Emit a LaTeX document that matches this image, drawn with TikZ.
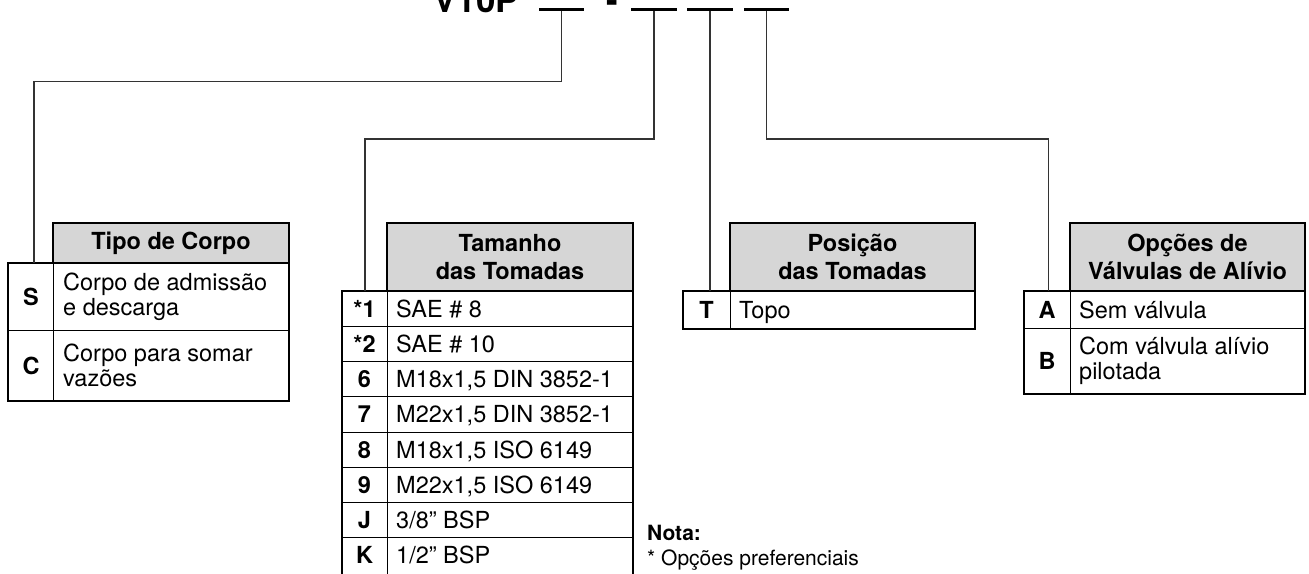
\documentclass[tikz,border=0pt]{standalone}
\usepackage{fontspec}
\setmainfont{TeX Gyre Heros}
\newcommand\fHead{\fontsize{23.5}{27.5}\selectfont\bfseries}
\newcommand\fKey{\fontsize{23.5}{27.5}\selectfont\bfseries}
\newcommand\fDesc{\fontsize{23.5}{25}\selectfont}
\newcommand\fTitle{\fontsize{35}{40}\selectfont\bfseries}
\newcommand\myNoteFont{\fontsize{21}{24}\selectfont}
\begin{document}
\begin{tikzpicture}[x=1pt,y=-1pt,
  conn/.style={draw=black!80, line width=1.3pt},
  outer/.style={draw=black, line width=2.3pt},
  inner/.style={draw=black, line width=1pt},
  hdr/.style={draw=black, line width=2.3pt, fill=black!16, inner sep=0pt, align=center, font=\fHead},
  key/.style={font=\fKey, inner sep=0pt},
  desc/.style={font=\fDesc, inner sep=0pt, anchor=west, align=left},
  one/.style={text height=22pt, text depth=5pt},
  uline/.style={fill=black, inner sep=0pt, minimum width=45.5pt, minimum height=2.2pt}]
\useasboundingbox (0,0) rectangle (1309,573);

% ---- title code ----
\node[font=\fTitle, anchor=base west, inner sep=0pt] (title) at (433,12.7) {V10P};
\node[font=\fTitle, anchor=base west, inner sep=0pt] (dash) at (606.5,12.7) {-};
\node[uline] (u1) at (561.5,9.5) {};
\node[uline] (u2) at (654,9.5) {};
\node[uline] (u3) at (710,9.5) {};
\node[uline] (u4) at (766.5,9.5) {};

% ---- Tipo de Corpo ----
\draw[outer] (8,263) rectangle (289,401);
\draw[inner] (53,263) -- (53,401);
\draw[inner] (8,330) -- (289,330);
\node[hdr, minimum width=236pt, minimum height=40pt] (h1) at (171,243) {Tipo de Corpo};
\node[key] (kS) at (31,296.5) {S};
\node[key] (kC) at (31,365.5) {C};
\node[desc] (dS) at (63,296.5) {Corpo de admissão\\e descarga};
\node[desc] (dC) at (63,365.5) {Corpo para somar\\vazões};
\coordinate (in1) at (34,263);

% ---- Tamanho das Tomadas ----
\draw[outer] (342,291) rectangle (633,576);
\draw[inner] (387,291) -- (387,576);
\foreach \k in {1,...,7}{\draw[inner] (342,291+35.25*\k) -- (633,291+35.25*\k);}
\node[hdr, minimum width=246pt, minimum height=68pt] (h2) at (510,257) {Tamanho\\das Tomadas};
\foreach \kk/\dd [count=\i from 0] in {{*1}/{SAE \# 8}, {*2}/{SAE \# 10}, {6}/{M18x1,5 DIN 3852-1}, {7}/{M22x1,5 DIN 3852-1}, {8}/{M18x1,5 ISO 6149}, {9}/{M22x1,5 ISO 6149}, {J}/{3/8” BSP}, {K}/{1/2” BSP}}{
  \node[key] (k2-\i) at (364.5,291+35.25*\i+17.6) {\kk};
  \node[desc, one] (d2-\i) at (396,291+35.25*\i+17.6) {\dd};
}
\coordinate (in2) at (365,291);

% ---- Posicao das Tomadas ----
\draw[outer] (683,291) rectangle (975,329);
\draw[inner] (730,291) -- (730,329);
\node[hdr, minimum width=245pt, minimum height=68pt] (h3) at (852.5,257) {Posição\\das Tomadas};
\node[key] (kT) at (706.5,310) {T};
\node[desc, one] (dT) at (739,310) {Topo};
\coordinate (in3) at (710,291);

% ---- Opcoes de Valvulas de Alivio ----
\draw[outer] (1024,291) rectangle (1305,394);
\draw[inner] (1070,291) -- (1070,394);
\draw[inner] (1024,328) -- (1305,328);
\node[hdr, minimum width=235pt, minimum height=68pt] (h4) at (1187.5,257) {Opções de\\Válvulas de Alívio};
\node[key] (kA) at (1047,309.5) {A};
\node[desc, one] (dA) at (1079,309.5) {Sem válvula};
\node[key] (kB) at (1047,361) {B};
\node[desc] (dB) at (1079,361) {Com válvula alívio\\pilotada};
\coordinate (in4) at (1048.5,291);

% ---- connectors ----
\coordinate (c1) at (34,81.5);
\coordinate (c2) at (365,139);
\coordinate (c4) at (1048.5,139);
\draw[conn] (u1.south) |- (c1) -- (in1);
\draw[conn] (u2.south) |- (c2) -- (in2);
\draw[conn] (u3.south) -- (in3);
\draw[conn] (u4.south) |- (c4) -- (in4);

% ---- note ----
\node[font={\myNoteFont\bfseries}, anchor=base west, inner sep=0pt] (nota) at (647,540) {Nota:};
\node[font={\myNoteFont}, anchor=base west, inner sep=0pt] (notatxt) at (647,565) {* Opções preferenciais};
\end{tikzpicture}
\end{document}
